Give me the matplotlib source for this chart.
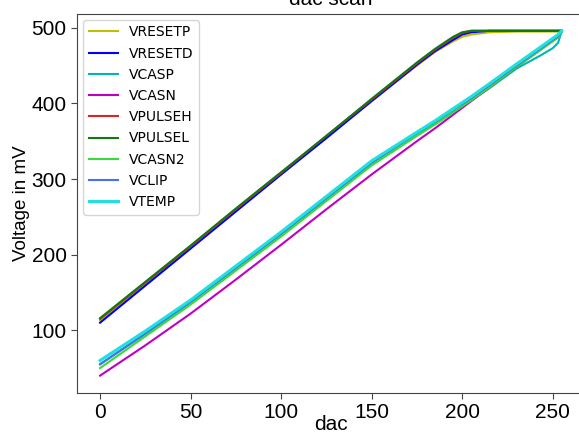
import matplotlib

matplotlib.use("Agg")
import matplotlib.pyplot as plt

# DAC code sample points shared by every scanned register
dac = [0, 25, 50, 75, 100, 125, 150, 175, 185, 195, 200, 205, 215, 230, 243, 250, 253, 255]

# measured output voltages (mV) per DAC
vresetp = [113, 161, 210, 258, 306, 355, 403, 450, 468, 482, 488, 491, 494, 495, 495, 495, 495, 495]
vresetd = [110, 159, 208, 257, 306, 354, 403, 451, 469, 484, 491, 494, 496, 496, 496, 496, 496, 496]
vcasp = [55, 95, 137, 182, 227, 274, 321, 360, 374, 389, 396, 404, 420, 446, 463, 473, 480, 496]
vcasn = [40, 80, 122, 167, 213, 260, 306, 350, 367, 385, 394, 403, 421, 448, 471, 483, 488, 495]
vpulseh = [115, 163, 211, 260, 308, 357, 405, 453, 471, 487, 493, 496, 496, 496, 496, 496, 496, 496]
vpulsel = [116, 164, 212, 261, 309, 357, 406, 454, 472, 488, 494, 496, 496, 496, 496, 496, 496, 496]
vcasn2 = [50, 92, 134, 179, 224, 271, 318, 357, 372, 388, 396, 404, 421, 448, 470, 482, 487, 494]
vclip = [55, 96, 138, 183, 228, 275, 322, 361, 376, 392, 399, 407, 424, 450, 472, 484, 489, 495]
vtemp = [60, 99, 140, 185, 230, 277, 324, 362, 377, 393, 401, 409, 426, 452, 474, 486, 491, 496]

series = [
    ("VRESETP", vresetp, "#bfbf00"),
    ("VRESETD", vresetd, "#0000ff"),
    ("VCASP", vcasp, "#00b5b5"),
    ("VCASN", vcasn, "#c000c0"),
    ("VPULSEH", vpulseh, "#d62728"),
    ("VPULSEL", vpulsel, "#107a10"),
    ("VCASN2", vcasn2, "#3ad83a"),
    ("VCLIP", vclip, "#4a6ff0"),
    ("VTEMP", vtemp, "#20e0e0"),
]

plt.rcParams["font.family"] = ["Liberation Sans", "DejaVu Sans"]

fig = plt.figure(figsize=(5.79, 4.37), dpi=100)
ax = fig.add_axes([0.133, 0.101, 0.877, 0.868])

for name, values, color in series:
    lw = 2.2 if name == "VTEMP" else 1.5
    ax.plot(dac, values, color=color, lw=lw, label=name)

ax.set_title("dac scan", fontsize=15)
ax.set_xlabel("dac", fontsize=15, labelpad=-5)
ax.set_ylabel("Voltage in mV", fontsize=13.5, labelpad=1)
ax.set_xticks([0, 50, 100, 150, 200, 250])
ax.set_yticks([100, 200, 300, 400, 500])
ax.tick_params(labelsize=15, length=4, color="#444444")
for spine in ax.spines.values():
    spine.set_color("#444444")

ax.legend(
    loc="upper left",
    prop={"family": "DejaVu Sans", "size": 10},
    handlelength=2.1,
    labelspacing=0.52,
    borderaxespad=0.45,
)

fig.savefig("out.png", dpi=100)
